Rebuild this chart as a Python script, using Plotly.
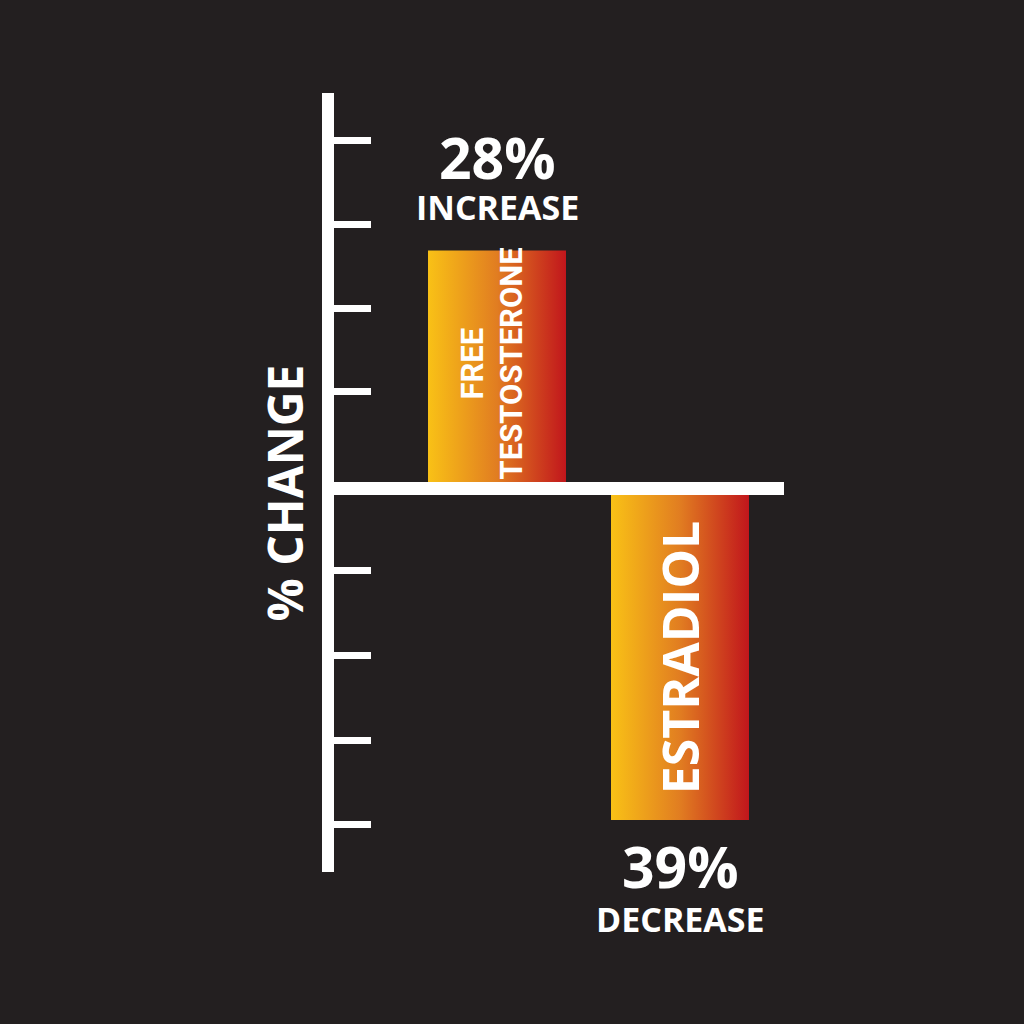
import plotly.graph_objects as go

# ---- data ----
categories = ["FREE<br>TESTOSTERONE", "ESTRADIOL"]
bar_lines = [["FREE", "TESTOSTERONE"], ["ESTRADIOL"]]
pct_change = [28, -39]
change_words = ["INCREASE", "DECREASE"]
tick_values = [40.9, 31.1, 21.2, 11.4, -9.7, -19.7, -29.6, -39.5]
axis_title = "% CHANGE"

# ---- style ----
BG = "#231f20"
WHITE = "#ffffff"
GRAD = [[0.0, "#f9c116"], [0.5, "#e17d21"], [1.0, "#c1161c"]]
BOLD = "Open Sans"
NARROW = "Roboto"

W = H = 1024
PX_PER_UNIT_Y = 8.5
ZERO_PX = 488.5
Y_TOP_PX, Y_BOT_PX = 93, 872
X_LEFT_PX, X_RIGHT_PX = 334, 784
PX_PER_UNIT_X = 183
FIRST_BAR_PX = 497
BAR_W = 0.754

y_range = [(ZERO_PX - Y_BOT_PX) / PX_PER_UNIT_Y, (ZERO_PX - Y_TOP_PX) / PX_PER_UNIT_Y]
x_min = -(FIRST_BAR_PX - X_LEFT_PX) / PX_PER_UNIT_X
x_range = [x_min, x_min + (X_RIGHT_PX - X_LEFT_PX) / PX_PER_UNIT_X]

fig = go.Figure()

for i, (cat, v) in enumerate(zip(categories, pct_change)):
    x0, x1 = i - BAR_W / 2, i + BAR_W / 2
    fig.add_trace(go.Scatter(
        x=[x0, x1, x1, x0, x0], y=[0, 0, v, v, 0],
        mode="lines", fill="toself",
        fillgradient=dict(type="horizontal", colorscale=GRAD),
        line=dict(width=0, color=BG),
        name=cat.replace("<br>", " "), hoverinfo="skip", showlegend=False,
    ))

annotations = []
for i, (v, word) in enumerate(zip(pct_change, change_words)):
    up = v > 0
    annotations.append(dict(
        x=i, y=v, xref="x", yref="y", text=f"{abs(v)}%", showarrow=False,
        xanchor="center", yanchor="middle", yshift=(94 if up else -46),
        font=dict(family=BOLD, size=57, color=WHITE, weight="bold"),
    ))
    annotations.append(dict(
        x=i, y=v, xref="x", yref="y", text=word, showarrow=False,
        xanchor="center", yanchor="middle", yshift=(44 if up else -99),
        font=dict(family=BOLD, size=34, color=WHITE, weight="bold"),
    ))

# rotated labels inside the bars
for txt, xs in zip(bar_lines[0], [-25, 14]):
    annotations.append(dict(
        x=0, y=pct_change[0] / 2, xref="x", yref="y", text=txt, showarrow=False,
        textangle=-90, xanchor="center", yanchor="middle", xshift=xs, yshift=6,
        font=dict(family=NARROW, size=31, color=WHITE, weight="bold"),
    ))
annotations.append(dict(
    x=1, y=pct_change[1] / 2, xref="x", yref="y", text=bar_lines[1][0], showarrow=False,
    textangle=-90, xanchor="center", yanchor="middle", xshift=0, yshift=-3,
    font=dict(family=BOLD, size=50, color=WHITE, weight="bold"),
))
# axis title
annotations.append(dict(
    x=0, y=0, xref="x domain", yref="y", text=axis_title, showarrow=False,
    textangle=-90, xanchor="center", yanchor="middle", xshift=-50, yshift=-5,
    font=dict(family=BOLD, size=48, color=WHITE, weight="bold"),
))

fig.update_layout(
    width=W, height=H, margin=dict(l=0, r=0, t=0, b=0),
    paper_bgcolor=BG, plot_bgcolor=BG,
    annotations=annotations,
    xaxis=dict(domain=[X_LEFT_PX / W, X_RIGHT_PX / W], range=x_range,
               showgrid=False, zeroline=False, showline=False,
               showticklabels=False, ticks=""),
    yaxis=dict(domain=[(H - Y_BOT_PX) / H, (H - Y_TOP_PX) / H], range=y_range,
               showgrid=False, showticklabels=False,
               showline=True, linecolor=WHITE, linewidth=12,
               ticks="inside", ticklen=37, tickwidth=7, tickcolor=WHITE,
               tickmode="array", tickvals=tick_values,
               zeroline=True, zerolinecolor=WHITE, zerolinewidth=13,
               zerolinelayer="above traces"),
)

fig.write_html("out.html")
